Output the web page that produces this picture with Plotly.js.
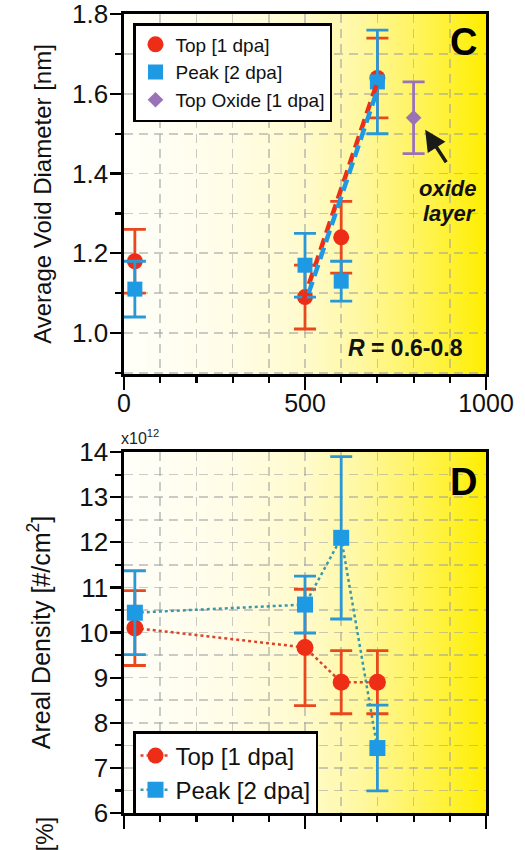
<!DOCTYPE html>
<html>
<head>
<meta charset="utf-8">
<script src="https://cdn.plot.ly/plotly-3.0.1.min.js"></script>
<style>html,body{margin:0;padding:0;background:#fff;}#chart{width:525px;height:850px;}</style>
</head>
<body>
<div id="chart"></div>
<script>
// ---------- data ----------
const topX = [30, 500, 600, 700];
const topDiam = [1.18, 1.09, 1.24, 1.64];
const topDiamErr = [0.08, 0.08, 0.09, 0.10];
const peakX = [30, 500, 600, 700];
const peakDiam = [1.11, 1.17, 1.13, 1.63];
const peakDiamErr = [0.07, 0.08, 0.05, 0.13];
const oxideX = [800];
const oxideDiam = [1.54];
const oxideDiamErr = [0.09];
const fitTopX = [495, 700];
const fitTopY = [1.08, 1.63];
const fitPeakX = [510, 700];
const fitPeakY = [1.10, 1.61];
const topDens = [10.1, 9.67, 8.9, 8.9];
const topDensErr = [0.83, 1.29, 0.7, 0.7];
const peakDens = [10.44, 10.62, 12.1, 7.44];
const peakDensErr = [0.93, 0.63, 1.8, 0.95];

// ---------- style ----------
const RED = '#ee2d17', RED_ERR = '#e8481c';
const BLUE = '#1e9ae4', BLUE_ERR = '#2a98d6';
const PURPLE = '#9a72b8';
const FONT = 'Liberation Sans, Arial, Helvetica, sans-serif';
const GRID = 'rgba(160,160,160,0.55)';

// gradient background image
const cv = document.createElement('canvas');
cv.width = 512; cv.height = 4;
const cx = cv.getContext('2d');
const g = cx.createLinearGradient(0, 0, 512, 0);
g.addColorStop(0, '#fffffa');
g.addColorStop(0.3, '#fffde6');
g.addColorStop(0.5, '#fffbcc');
g.addColorStop(0.65, '#fff8a2');
g.addColorStop(0.8, '#fff462');
g.addColorStop(0.92, '#fff128');
g.addColorStop(1, '#ffee00');
cx.fillStyle = g; cx.fillRect(0, 0, 512, 4);
const bgURL = cv.toDataURL('image/png');

// pixel -> paper helpers (plot area: x 124..486, y 14..813)
const L = 124, R = 39, T = 14, B = 37, W = 525, H = 850;
const pw = W - L - R, ph = H - T - B;
const px = x => (x - L) / pw;
const py = y => (H - B - y) / ph;

const errStyle = (arr, col) => ({type: 'data', array: arr, visible: true, color: col, thickness: 2.8, width: 11});

const traces = [
  {x: topX, y: topDiam, name: 'Top [1 dpa]', mode: 'markers', type: 'scatter', xaxis: 'x', yaxis: 'y',
   marker: {symbol: 'circle', size: 16, color: RED}, error_y: errStyle(topDiamErr, RED_ERR), legend: 'legend'},
  {x: peakX, y: peakDiam, name: 'Peak [2 dpa]', mode: 'markers', type: 'scatter', xaxis: 'x', yaxis: 'y',
   marker: {symbol: 'square', size: 15, color: BLUE}, error_y: errStyle(peakDiamErr, BLUE_ERR), legend: 'legend'},
  {x: oxideX, y: oxideDiam, name: 'Top Oxide [1 dpa]', mode: 'markers', type: 'scatter', xaxis: 'x', yaxis: 'y',
   marker: {symbol: 'diamond', size: 12, color: PURPLE}, error_y: errStyle(oxideDiamErr, PURPLE), legend: 'legend'},
  {x: fitTopX, y: fitTopY, mode: 'lines', type: 'scatter', xaxis: 'x', yaxis: 'y', showlegend: false,
   line: {color: RED, width: 4.5, dash: '12px,6px'}},
  {x: fitPeakX, y: fitPeakY, mode: 'lines', type: 'scatter', xaxis: 'x', yaxis: 'y', showlegend: false,
   line: {color: BLUE, width: 4.5, dash: '12px,6px'}},
  {x: topX, y: topDens, name: 'Top [1 dpa]', mode: 'lines+markers', type: 'scatter', xaxis: 'x2', yaxis: 'y2',
   marker: {symbol: 'circle', size: 17, color: RED}, line: {color: '#d9442b', width: 2.5, dash: 'dot'},
   error_y: errStyle(topDensErr, RED_ERR), legend: 'legend2'},
  {x: peakX, y: peakDens, name: 'Peak [2 dpa]', mode: 'lines+markers', type: 'scatter', xaxis: 'x2', yaxis: 'y2',
   marker: {symbol: 'square', size: 16, color: BLUE}, line: {color: '#3c98a6', width: 2.5, dash: 'dot'},
   error_y: errStyle(peakDensErr, BLUE_ERR), legend: 'legend2'}
];

const xCommon = {
  range: [0, 1000], dtick: 500, tick0: 0, ticks: 'outside', ticklen: 13, tickwidth: 2.2, tickcolor: '#000',
  ticklabelstandoff: -8, ticklabeloverflow: 'allow',
  showline: true, linecolor: '#000', linewidth: 2.6, mirror: true, zeroline: false,
  showgrid: true, gridcolor: GRID, gridwidth: 1.6, griddash: '9px,6px',
  minor: {dtick: 100, ticks: 'outside', ticklen: 6, tickwidth: 2.2, tickcolor: '#000',
          showgrid: true, gridcolor: GRID, gridwidth: 1.6, griddash: '9px,6px'},
  tickfont: {family: FONT, size: 25, color: '#111'}, fixedrange: true
};

const layout = {
  width: W, height: H,
  margin: {l: L, r: R, t: T, b: B},
  paper_bgcolor: '#fff', plot_bgcolor: 'rgba(0,0,0,0)',
  font: {family: FONT, color: '#111'},
  xaxis: Object.assign({}, xCommon, {anchor: 'y', domain: [0, 1]}),
  xaxis2: Object.assign({}, xCommon, {anchor: 'y2', domain: [0, 1], showticklabels: false}),
  yaxis: {
    anchor: 'x', domain: [py(374), 1], range: [0.897, 1.8005], dtick: 0.2, tick0: 1.0, tickformat: '.1f',
    ticks: 'outside', ticklen: 11, tickwidth: 2.2, tickcolor: '#000', ticklabelstandoff: -3, ticklabeloverflow: 'allow',
    showline: true, linecolor: '#000', linewidth: 2.6, mirror: true, zeroline: false,
    showgrid: true, gridcolor: GRID, gridwidth: 1.6, griddash: '9px,6px',
    minor: {dtick: 0.1, ticks: 'outside', ticklen: 6, tickwidth: 2.2, tickcolor: '#000',
            showgrid: true, gridcolor: GRID, gridwidth: 1.6, griddash: '9px,6px'},
    tickfont: {family: FONT, size: 26, color: '#111'},
    title: {text: 'Average Void Diameter [nm]', font: {family: FONT, size: 24, color: '#111'}, standoff: 14},
    fixedrange: true
  },
  yaxis2: {
    anchor: 'x2', domain: [0, py(452)], range: [6, 14.002], dtick: 1, tick0: 6,
    ticks: 'outside', ticklen: 11, tickwidth: 2.2, tickcolor: '#000', ticklabelstandoff: -3, ticklabeloverflow: 'allow',
    showline: true, linecolor: '#000', linewidth: 2.6, mirror: true, zeroline: false,
    showgrid: true, gridcolor: GRID, gridwidth: 1.6, griddash: '9px,6px',
    minor: {dtick: 0.5, ticks: 'outside', ticklen: 6, tickwidth: 2.2, tickcolor: '#000',
            showgrid: true, gridcolor: GRID, gridwidth: 1.6, griddash: '9px,6px'},
    tickfont: {family: FONT, size: 26, color: '#111'},
    title: {text: 'Areal Density [#/cm<sup>2</sup>]', font: {family: FONT, size: 25, color: '#111'}, standoff: 22},
    fixedrange: true
  },
  images: [
    {source: bgURL, xref: 'x', yref: 'y', x: 0, y: 1.8005, sizex: 1000, sizey: 0.9035, sizing: 'stretch', layer: 'below', xanchor: 'left', yanchor: 'top'},
    {source: bgURL, xref: 'x2', yref: 'y2', x: 0, y: 14.002, sizex: 1000, sizey: 8.002, sizing: 'stretch', layer: 'below', xanchor: 'left', yanchor: 'top'}
  ],
  legend: {
    x: px(133), y: py(23), xanchor: 'left', yanchor: 'top',
    bgcolor: '#fff', bordercolor: '#000', borderwidth: 2.5,
    font: {family: FONT, size: 19, color: '#111'}, tracegroupgap: 0, itemclick: false
  },
  legend2: {
    x: px(133), y: py(731), xanchor: 'left', yanchor: 'top',
    bgcolor: '#fff', bordercolor: '#000', borderwidth: 2.5,
    font: {family: FONT, size: 24, color: '#111'}, tracegroupgap: 0, itemclick: false
  },
  annotations: [
    {text: '<b>C</b>', xref: 'paper', yref: 'paper', x: px(463), y: py(42), xanchor: 'center', yanchor: 'middle', showarrow: false,
     font: {family: FONT, size: 38, color: '#000'}},
    {text: '<b>D</b>', xref: 'paper', yref: 'paper', x: px(463), y: py(482), xanchor: 'center', yanchor: 'middle', showarrow: false,
     font: {family: FONT, size: 38, color: '#000'}},
    {text: '<b><i>oxide</i></b>', xref: 'paper', yref: 'paper', x: px(447), y: py(188), xanchor: 'center', yanchor: 'middle', showarrow: false,
     font: {family: FONT, size: 22, color: '#111'}},
    {text: '<b><i>layer</i></b>', xref: 'paper', yref: 'paper', x: px(449), y: py(213), xanchor: 'center', yanchor: 'middle', showarrow: false,
     font: {family: FONT, size: 22, color: '#111'}},
    {text: '', xref: 'x', yref: 'y', x: 832, y: 1.51, ax: 22, ay: 34, showarrow: true,
     arrowhead: 2, arrowsize: 1.2, arrowwidth: 3.5, arrowcolor: '#1a1a1a', standoff: 0},
    {text: '<b><i>R</i> = 0.6-0.8</b>', xref: 'paper', yref: 'paper', x: px(405), y: py(348), xanchor: 'center', yanchor: 'middle', showarrow: false,
     font: {family: FONT, size: 23, color: '#111'}},
    {text: 'x10<sup>12</sup>', xref: 'paper', yref: 'paper', x: px(119), y: py(437), xanchor: 'left', yanchor: 'middle', showarrow: false,
     font: {family: FONT, size: 16, color: '#222'}},
    {text: '[%]', xref: 'paper', yref: 'paper', x: px(44), y: py(815), xanchor: 'center', yanchor: 'top', textangle: -90, showarrow: false,
     font: {family: FONT, size: 24, color: '#111'}}
  ],
  showlegend: true
};

Plotly.newPlot('chart', traces, layout, {displayModeBar: false, staticPlot: true});
</script>
</body>
</html>
